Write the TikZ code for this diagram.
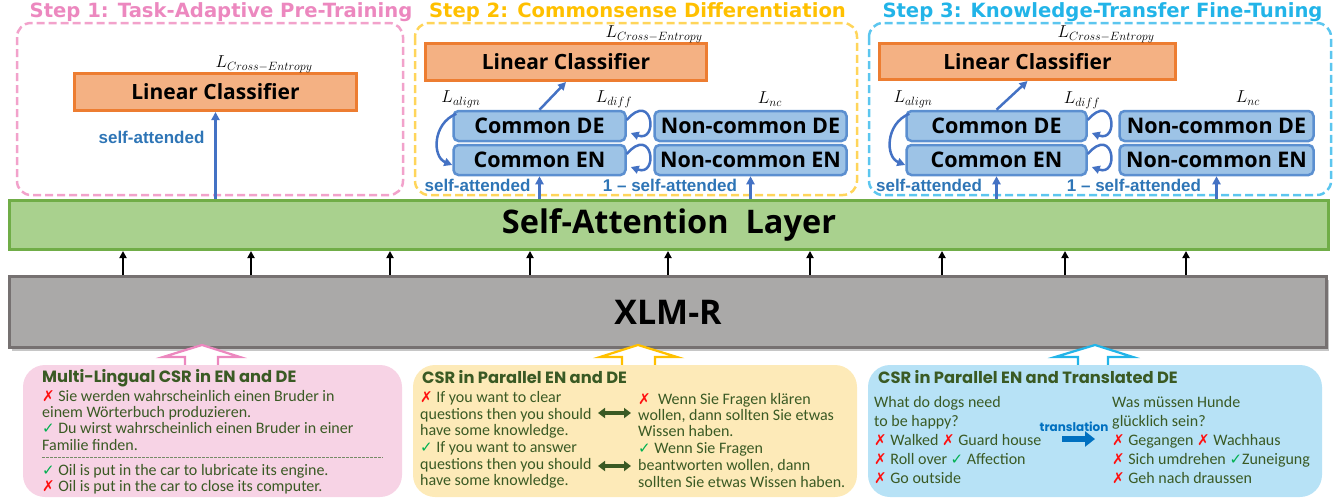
\documentclass[tikz,border=0pt]{standalone}
\usepackage{fontspec}
\setmainfont{Carlito}
\newfontfamily\headfont{Open Sans}
\newfontfamily\arialfont{Liberation Sans}
\newfontfamily\stepfont{DejaVu Sans}
\newfontfamily\boxtitlefont{Poppins}
\newfontfamily\symfont{DejaVu Sans}
\usetikzlibrary{arrows.meta,calc,shadows}

\definecolor{stepApink}{HTML}{EC88BF}
\definecolor{stepAdash}{HTML}{F2A2CB}
\definecolor{stepBgold}{HTML}{FFC000}
\definecolor{stepBdash}{HTML}{FFD55A}
\definecolor{stepCblue}{HTML}{22B4E8}
\definecolor{stepCdash}{HTML}{5CC6EF}
\definecolor{lcfill}{HTML}{F4B183}
\definecolor{lcdraw}{HTML}{ED7D31}
\definecolor{cfill}{HTML}{9DC3E6}
\definecolor{cdraw}{HTML}{5B8FD0}
\definecolor{arrblue}{HTML}{4472C4}
\definecolor{sablue}{HTML}{2E75B6}
\definecolor{salfill}{HTML}{A9D18E}
\definecolor{saldraw}{HTML}{70AD47}
\definecolor{xlmfill}{HTML}{AAA9A8}
\definecolor{xlmdraw}{HTML}{767171}
\definecolor{pinkbg}{HTML}{F7D3E5}
\definecolor{yellowbg}{HTML}{FDEAB8}
\definecolor{bluebg}{HTML}{B7E2F6}
\definecolor{txtgreen}{HTML}{3A5A24}
\definecolor{xred}{HTML}{FF1010}
\definecolor{vgreen}{HTML}{00B050}
\definecolor{transblue}{HTML}{0070C0}

\newcommand{\xno}{{\symfont\fontsize{15}{15}\selectfont\color{xred}✗}}
\newcommand{\xok}{{\symfont\fontsize{15}{15}\selectfont\color{vgreen}✓}}

\tikzset{
  stepframe/.style={rounded corners=14pt, line width=2.5pt, dash pattern=on 8pt off 4pt},
  steptitle/.style={font=\stepfont\bfseries\fontsize{19.6}{19.6}\selectfont, inner sep=0},
  lcbox/.style={draw=lcdraw, fill=lcfill, line width=3pt, inner sep=0,
    font=\headfont\bfseries\fontsize{21}{21}\selectfont},
  cbox/.style={draw=cdraw, fill=cfill, line width=2.5pt, rounded corners=5pt, inner sep=0,
    minimum height=30pt, font=\headfont\bfseries\fontsize{21.5}{21.5}\selectfont},
  bluearr/.style={draw=arrblue, line width=2.5pt, -{Triangle[length=8pt,width=8pt]}},
  salabel/.style={font=\arialfont\bfseries\fontsize{17}{17}\selectfont, text=sablue, inner sep=0},
  lossl/.style={font=\fontsize{17}{17}\selectfont, inner sep=0},
  smallarr/.style={line width=2pt, -{Triangle[length=7pt,width=7pt]}},
  blockarr/.style={line width=2.2pt, fill=white, line join=miter},
  csrbox/.style={rounded corners=22pt},
  csrtitle/.style={font=\boxtitlefont\bfseries\fontsize{16.3}{16.3}\selectfont, text=txtgreen, anchor=west, inner sep=0},
  ln/.style={font=\fontsize{16}{16}\selectfont, text=txtgreen, anchor=west, inner sep=0, text height=11pt, text depth=3pt},
  dblarr/.style={line width=4pt, draw=txtgreen, {Triangle[length=7pt,width=10pt]}-{Triangle[length=7pt,width=10pt]}},
  looparr/.style={bluearr},
}

\begin{document}
\begin{tikzpicture}[x=1pt,y=-1pt]
\useasboundingbox (0,0) rectangle (1338,499);

% ---------- step frames and titles ----------
\draw[stepframe, draw=stepAdash] (17,23) rectangle (403,195);
\draw[stepframe, draw=stepBdash] (415,23) rectangle (857,195);
\draw[stepframe, draw=stepCdash] (869,23) rectangle (1331,195);
\node[steptitle, text=stepApink] (t1) at (221,12) {Step 1: Task-Adaptive Pre-Training};
\node[steptitle, text=stepBgold] (t2) at (637.5,12) {Step 2: Commonsense Differentiation};
\node[steptitle, text=stepCblue] (t3) at (1102.5,12) {Step 3: Knowledge-Transfer Fine-Tuning};

% ---------- self-attention layer and XLM-R ----------
\node[draw=saldraw, fill=salfill, line width=3pt, minimum width=1319pt, minimum height=49pt, inner sep=0,
  font=\headfont\bfseries\fontsize{32.5}{32.5}\selectfont] (sal) at (669,225) {Self-Attention~~Layer};
\node[draw=xlmdraw, fill=xlmfill, line width=3pt, minimum width=1317pt, minimum height=71pt, inner sep=0,
  drop shadow={shadow xshift=2pt, shadow yshift=-3pt, opacity=0.45},
  font=\headfont\bfseries\fontsize{34}{34}\selectfont] (xlm) at (668,312) {XLM-R};

\foreach \xx [count=\i] in {123,251,390,530,668,810,942,1065,1186}{
  \coordinate (ax\i) at (\xx,0);
  \draw[smallarr] (xlm.north -| ax\i) -- (sal.south -| ax\i);
}

% ---------- step 1 ----------
\node[lcbox, minimum width=282pt, minimum height=37pt] (lcA) at (215.5,92) {Linear Classifier};
\node[lossl] (ceA) at (264,64) {$L_{Cross-Entropy}$};
\draw[bluearr] (lcA.south |- sal.north) -- (lcA.south);
\node[salabel] (saA) at (151.5,137) {self-attended};

% ---------- step 2 ----------
\node[lcbox, minimum width=281pt, minimum height=37pt] (lcB) at (566,62) {Linear Classifier};
\node[lossl] (ceB) at (654,34) {$L_{Cross-Entropy}$};
\node[cbox, minimum width=172pt] (cdeB) at (539.5,126) {Common DE};
\node[cbox, minimum width=172pt] (cenB) at (539.5,160) {Common EN};
\node[cbox, minimum width=192pt] (ncdeB) at (750.5,126) {Non-common DE};
\node[cbox, minimum width=192pt] (ncenB) at (750.5,160) {Non-common EN};
\node[lossl] (alB) at (461,99) {$L_{align}$};
\node[lossl] (dfB) at (614,99) {$L_{diff}$};
\node[lossl] (ncB) at (770,99) {$L_{nc}$};
\draw[bluearr] (cdeB.north) -- (lcB.south);
\draw[bluearr] ($(cdeB.north west)+(4,4)$) .. controls +(-24,10) and +(-20,-8) .. ($(cenB.west)+(0,5)$);
\draw[looparr] ($(cdeB.east)+(0,-6)$) .. controls +(26,-30) and +(28,10) .. ($(cdeB.east)+(4,7)$);
\draw[looparr] ($(cenB.east)+(0,-6)$) .. controls +(26,-30) and +(28,10) .. ($(cenB.east)+(4,7)$);
\draw[bluearr] (cenB.south |- sal.north) -- (cenB.south);
\draw[bluearr] (ncenB.south |- sal.north) -- (ncenB.south);
\node[salabel] (saB) at (477.5,185) {self-attended};
\node[salabel] (nsaB) at (670,185) {1 – self-attended};

% ---------- step 3 ----------
\node[lcbox, minimum width=296pt, minimum height=36pt] (lcC) at (1027.5,61.5) {Linear Classifier};
\node[lossl] (ceC) at (1106,34) {$L_{Cross-Entropy}$};
\node[cbox, minimum width=180pt] (cdeC) at (996.5,126) {Common DE};
\node[cbox, minimum width=180pt] (cenC) at (996.5,160) {Common EN};
\node[cbox, minimum width=194pt] (ncdeC) at (1216.5,126) {Non-common DE};
\node[cbox, minimum width=194pt] (ncenC) at (1216.5,160) {Non-common EN};
\node[lossl] (alC) at (913,99) {$L_{align}$};
\node[lossl] (dfC) at (1082,100) {$L_{diff}$};
\node[lossl] (ncC) at (1248,98) {$L_{nc}$};
\draw[bluearr] (cdeC.north) -- (lcC.south);
\draw[bluearr] ($(cdeC.north west)+(4,4)$) .. controls +(-24,10) and +(-20,-8) .. ($(cenC.west)+(0,5)$);
\draw[looparr] ($(cdeC.east)+(0,-6)$) .. controls +(26,-30) and +(28,10) .. ($(cdeC.east)+(4,7)$);
\draw[looparr] ($(cenC.east)+(0,-6)$) .. controls +(26,-30) and +(28,10) .. ($(cenC.east)+(4,7)$);
\draw[bluearr] (cenC.south |- sal.north) -- (cenC.south);
\draw[bluearr] (ncenC.south |- sal.north) -- (ncenC.south);
\node[salabel] (saC) at (929,185) {self-attended};
\node[salabel] (nsaC) at (1134,185) {1 – self-attended};

% ---------- block arrows into XLM-R ----------
\draw[blockarr, draw=stepApink] (185,368) -- (185,357) -- (163,357) -- (202,345) -- (240,357) -- (218,357) -- (218,368);
\draw[blockarr, draw=stepBgold] (622,368) -- (622,357) -- (600,357) -- (638,345) -- (677,357) -- (655,357) -- (655,368);
\draw[blockarr, draw=stepCblue] (1078,368) -- (1078,357) -- (1055,357) -- (1095,345) -- (1133,357) -- (1108,357) -- (1108,368);

% ---------- bottom boxes ----------
\fill[csrbox, pinkbg] (23,365) rectangle (402,497);
\fill[csrbox, yellowbg] (413,365) rectangle (857,497);
\fill[csrbox, bluebg] (868,365) rectangle (1322,497);

% pink
\node[csrtitle] (ptitle) at (42,378) {Multi-Lingual CSR in EN and DE};
\node[ln] (p1) at (42,397) {\xno\ Sie werden wahrscheinlich einen Bruder in};
\node[ln] (p2) at (42,413) {einem Wörterbuch produzieren.};
\node[ln] (p3) at (42,429) {\xok\ Du wirst wahrscheinlich einen Bruder in einer};
\node[ln] (p4) at (42,446) {Familie finden.};
\draw[draw=txtgreen!70, line width=0.8pt, dash pattern=on 2.5pt off 1.5pt] (42,457) -- (383,457);
\node[ln] (p5) at (42,471) {\xok\ Oil is put in the car to lubricate its engine.};
\node[ln] (p6) at (42,487) {\xno\ Oil is put in the car to close its computer.};

% yellow
\node[csrtitle] (ytitle) at (422,377) {CSR in Parallel EN and DE};
\node[ln] (yl1) at (420,398) {\xno\ If you want to clear};
\node[ln] (yl2) at (420,415) {questions then you should};
\node[ln] (yl3) at (420,431) {have some knowledge.};
\node[ln] (yl4) at (420,448) {\xok\ If you want to answer};
\node[ln] (yl5) at (420,465) {questions then you should};
\node[ln] (yl6) at (420,481) {have some knowledge.};
\node[ln] (yr1) at (638,400) {\xno\ \ Wenn Sie Fragen klären};
\node[ln] (yr2) at (638,416) {wollen, dann sollten Sie etwas};
\node[ln] (yr3) at (638,432) {Wissen haben.};
\node[ln] (yr4) at (638,449) {\xok\ Wenn Sie Fragen};
\node[ln] (yr5) at (638,466) {beantworten wollen, dann};
\node[ln] (yr6) at (638,483) {sollten Sie etwas Wissen haben.};
\coordinate (da1) at (598,413); \coordinate (db1) at (631,413);
\coordinate (da2) at (598,466); \coordinate (db2) at (631,466);
\draw[dblarr] (da1) -- (db1);
\draw[dblarr] (da2) -- (db2);

% blue
\node[csrtitle] (btitle) at (878,377) {CSR in Parallel EN and Translated DE};
\node[ln] (bl1) at (874,403) {What do dogs need};
\node[ln] (bl2) at (874,422) {to be happy?};
\node[ln] (bl3) at (874,441) {\xno\ Walked \xno\ Guard house};
\node[ln] (bl4) at (874,460) {\xno\ Roll over \xok\ Affection};
\node[ln] (bl5) at (874,479) {\xno\ Go outside};
\node[ln] (br1) at (1112,403) {Was müssen Hunde};
\node[ln] (br2) at (1112,422) {glücklich sein?};
\node[ln] (br3) at (1112,441) {\xno\ Gegangen \xno\ Wachhaus};
\node[ln] (br4) at (1112,460) {\xno\ Sich umdrehen \xok Zuneigung};
\node[ln] (br5) at (1112,479) {\xno\ Geh nach draussen};
\node[font=\boxtitlefont\bfseries\fontsize{12}{12}\selectfont, text=transblue, inner sep=0] (trl) at (1074,427) {translation};
\coordinate (tra) at (1062,439); \coordinate (trb) at (1095,439);
\draw[line width=6pt, draw=transblue, -{Triangle[length=10pt,width=15pt]}] (tra) -- (trb);
\end{tikzpicture}
\end{document}
